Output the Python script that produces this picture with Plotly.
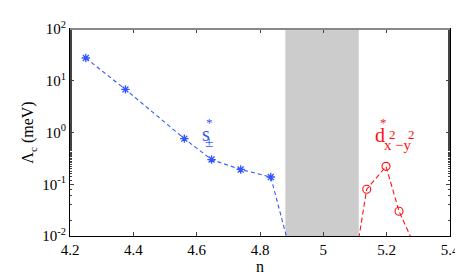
import plotly.graph_objects as go

# s± branch
s_n = [4.25, 4.375, 4.561, 4.647, 4.739, 4.834]
s_val = [27.5, 6.8, 0.76, 0.30, 0.193, 0.138]
s_line_n = s_n + [4.885]
s_line_val = s_val + [0.009]

# d branch
d_n = [5.137, 5.198, 5.239]
d_val = [0.080, 0.222, 0.030]
d_line_n = [5.112] + d_n + [5.278]
d_line_val = [0.009] + d_val + [0.009]

gap = [4.88, 5.112]

x_ticks = [4.2, 4.4, 4.6, 4.8, 5.0, 5.2, 5.4]
x_ticktext = ["4.2", "4.4", "4.6", "4.8", "5", "5.2", "5.4"]
y_ticks = [0.01, 0.1, 1, 10, 100]
y_ticktext = ["10<sup>-2</sup>", "10<sup>-1</sup>", "10<sup>0</sup>", "10<sup>1</sup>", "10<sup>2</sup>"]

blue = "#3355ff"
red = "#ff1111"
font = "Liberation Serif"

fig = go.Figure()
fig.add_shape(type="rect", xref="x", yref="paper", x0=gap[0], x1=gap[1], y0=0, y1=1,
              fillcolor="#cccccc", line=dict(width=0), layer="below")
fig.add_trace(go.Scatter(x=s_line_n, y=s_line_val, mode="lines",
                         line=dict(color=blue, dash="4px,3px", width=1.1), showlegend=False))
fig.add_trace(go.Scatter(x=s_n, y=s_val, mode="markers",
                         marker=dict(symbol="asterisk-open", size=7, line=dict(color=blue, width=1.3), color=blue),
                         showlegend=False))
fig.add_trace(go.Scatter(x=d_line_n, y=d_line_val, mode="lines",
                         line=dict(color=red, dash="5px,3px", width=1.1), showlegend=False))
fig.add_trace(go.Scatter(x=d_n, y=d_val, mode="markers",
                         marker=dict(symbol="circle-open", size=8, line=dict(color=red, width=1.1), color=red),
                         showlegend=False))

anns = [
    (4.628, -0.03, "s", 20, blue),
    (4.640, 0.19, "*", 13, blue),
    (4.640, -0.19, "±", 15, blue),
    (5.178, -0.05, "d", 20, red),
    (5.190, 0.19, "*", 13, red),
    (5.203, -0.25, "x", 15, red),
    (5.218, -0.03, "2", 13, red),
    (5.253, -0.25, "−y", 15, red),
    (5.277, -0.03, "2", 13, red),
]
for x, y, t, s, c in anns:
    fig.add_annotation(x=x, y=y, xref="x", yref="y", text=t, showarrow=False,
                       font=dict(family=font, size=s, color=c))

fig.update_layout(
    width=463, height=274,
    margin=dict(l=62, r=11, t=15, b=37),
    plot_bgcolor="white", paper_bgcolor="white",
    font=dict(family=font, size=15, color="black"),
    xaxis=dict(range=[4.2, 5.4], tickvals=x_ticks, ticktext=x_ticktext, ticks="inside", ticklen=4,
               showline=True, linecolor="black", linewidth=1, mirror="ticks", showgrid=False,
               zeroline=False, title=dict(text="n", standoff=2, font=dict(size=16))),
    yaxis=dict(type="log", range=[-2, 2], tickvals=y_ticks, ticktext=y_ticktext, ticks="inside", ticklen=4,
               showline=True, linecolor="black", linewidth=1, mirror="ticks", showgrid=False,
               minor=dict(ticks="inside", ticklen=2, showgrid=False),
               zeroline=False, title=dict(text="Λ<sub>c</sub> (meV)", standoff=4, font=dict(size=16))),
)
fig.add_shape(type="line", xref="paper", yref="paper", x0=0, x1=1, y0=1, y1=1,
              line=dict(color="#888888", width=2))
fig.write_html("out.html")
